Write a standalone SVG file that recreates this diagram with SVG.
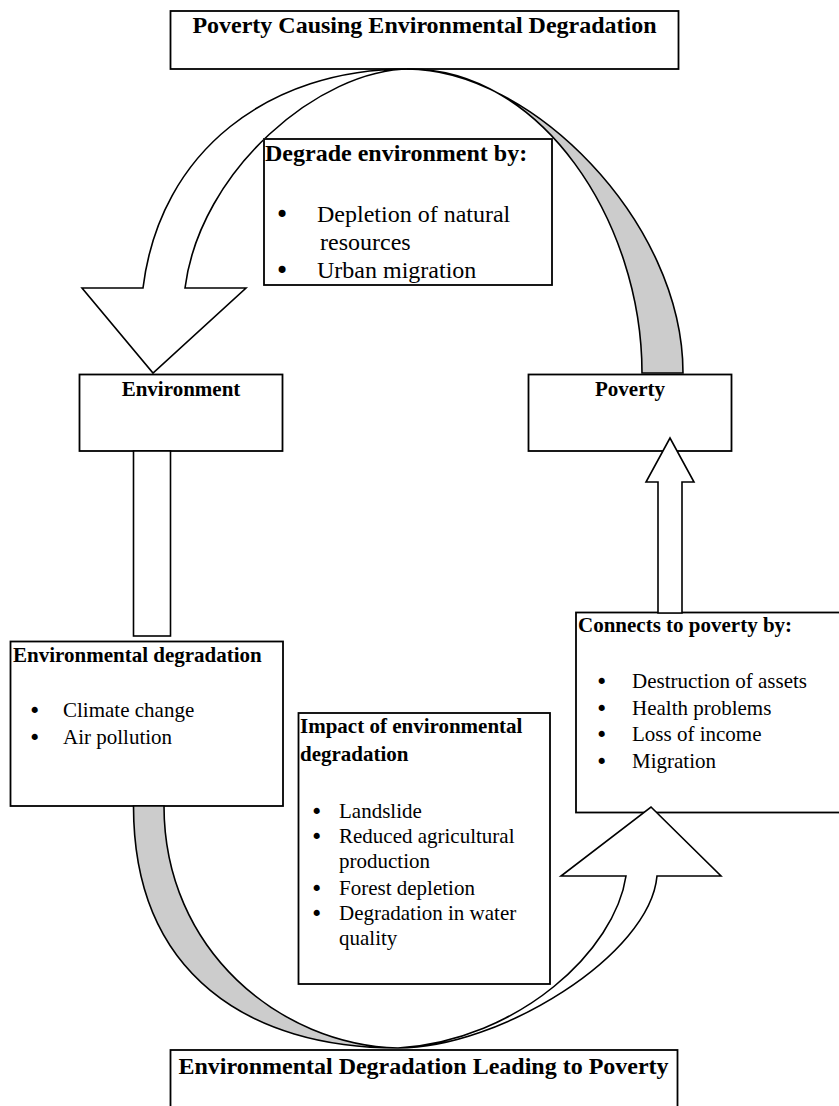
<svg xmlns="http://www.w3.org/2000/svg" width="839" height="1106" viewBox="0 0 839 1106">
<style>
.box{fill:#fff;stroke:#000;stroke-width:1.8}
.arr{fill:#fff;stroke:#000;stroke-width:1.6;stroke-linejoin:miter}
.band{fill:#cccccc;stroke:#000;stroke-width:1.6}
text{font-family:"Liberation Serif","Times New Roman",serif;fill:#000}
.h24{font-size:24px;font-weight:bold}
.b24{font-size:24px}
.h21{font-size:21px;font-weight:bold}
.b21{font-size:21px}
.u24{font-size:24px;font-family:"DejaVu Sans",sans-serif}
.u21{font-size:21px;font-family:"DejaVu Sans",sans-serif}
.c{text-anchor:middle}
</style>
<defs>
<mask id="boxmask" maskUnits="userSpaceOnUse" x="0" y="0" width="839" height="1106">
<rect x="0" y="0" width="839" height="1106" fill="#fff"/>
<rect x="263" y="138" width="290" height="148" fill="#000"/>
<rect x="297.5" y="712" width="253.5" height="273" fill="#000"/>
</mask>
</defs>

<g id="node-top">
<rect class="box" x="170.5" y="11" width="508" height="58"/>
<text class="h24 c" x="424.5" y="33">Poverty Causing Environmental Degradation</text>
</g>

<g id="node-degrade">
<rect class="box" x="264" y="139" width="288" height="146"/>
<text class="h24" x="265" y="161">Degrade environment by:</text>
<text class="u24" x="275" y="223">•</text>
<text class="b24" x="317" y="222">Depletion of natural</text>
<text class="b24" x="320" y="250">resources</text>
<text class="u24" x="275" y="279">•</text>
<text class="b24" x="317" y="278">Urban migration</text>
</g>

<g id="node-environment">
<rect class="box" x="79.5" y="374.5" width="203" height="76.5"/>
<text class="h21 c" x="181" y="396">Environment</text>
</g>

<g id="node-poverty">
<rect class="box" x="528.5" y="374.5" width="203" height="76.5"/>
<text class="h21 c" x="630" y="396">Poverty</text>
</g>

<g id="node-envdeg">
<rect class="box" x="10.5" y="641.5" width="272.5" height="164.5"/>
<text class="h21" x="13" y="662">Environmental degradation</text>
<text class="u21" x="28.5" y="718">•</text>
<text class="b21" x="63" y="717">Climate change</text>
<text class="u21" x="28.5" y="745">•</text>
<text class="b21" x="63" y="744">Air pollution</text>
</g>

<g id="node-impact">
<rect class="box" x="298.5" y="713" width="251.5" height="271"/>
<text class="h21" x="300" y="733">Impact of environmental</text>
<text class="h21" x="300" y="761">degradation</text>
<text class="u21" x="310.5" y="819">•</text>
<text class="b21" x="339" y="818">Landslide</text>
<text class="u21" x="310.5" y="844">•</text>
<text class="b21" x="339" y="843">Reduced agricultural</text>
<text class="b21" x="339" y="868">production</text>
<text class="u21" x="310.5" y="896">•</text>
<text class="b21" x="339" y="895">Forest depletion</text>
<text class="u21" x="310.5" y="921">•</text>
<text class="b21" x="339" y="920">Degradation in water</text>
<text class="b21" x="339" y="945">quality</text>
</g>

<g id="node-connects">
<rect class="box" x="576" y="612.5" width="280" height="200"/>
<text class="h21" x="578" y="632">Connects to poverty by:</text>
<text class="u21" x="595.5" y="689">•</text>
<text class="b21" x="632" y="688">Destruction of assets</text>
<text class="u21" x="595.5" y="716">•</text>
<text class="b21" x="632" y="715">Health problems</text>
<text class="u21" x="595.5" y="742">•</text>
<text class="b21" x="632" y="741">Loss of income</text>
<text class="u21" x="595.5" y="769">•</text>
<text class="b21" x="632" y="768">Migration</text>
</g>

<g id="node-bottom">
<rect class="box" x="170.5" y="1050" width="507" height="80"/>
<text class="h24 c" x="423.5" y="1074">Environmental Degradation Leading to Poverty</text>
</g>

<g id="connectors" mask="url(#boxmask)">
<path class="band" d="M407,69 C530,69 683,221 683,373 L642,373 C642,220 540,69 410,69 Z"/>
<path class="arr" d="M407,69 C270,69 160,150 143,288 L82,288 L153,373 L246,288 L185,288 C200,170 320,69 410,69 Z"/>
<rect class="arr" x="133.5" y="451" width="37" height="185"/>
<polygon class="arr" points="658,613 658,482 646,482 670,438 694,482 682,482 682,613"/>
<path class="band" d="M133.5,806 C133.5,975 250,1048 398,1048 C280,1045 164,950 164,806 Z"/>
<path class="arr" d="M398,1048 C500,1048 650,955 657,876 L721,876 L651,807 L561,876 L626,876 C615,950 520,1040 398,1048 Z"/>
</g>
</svg>
